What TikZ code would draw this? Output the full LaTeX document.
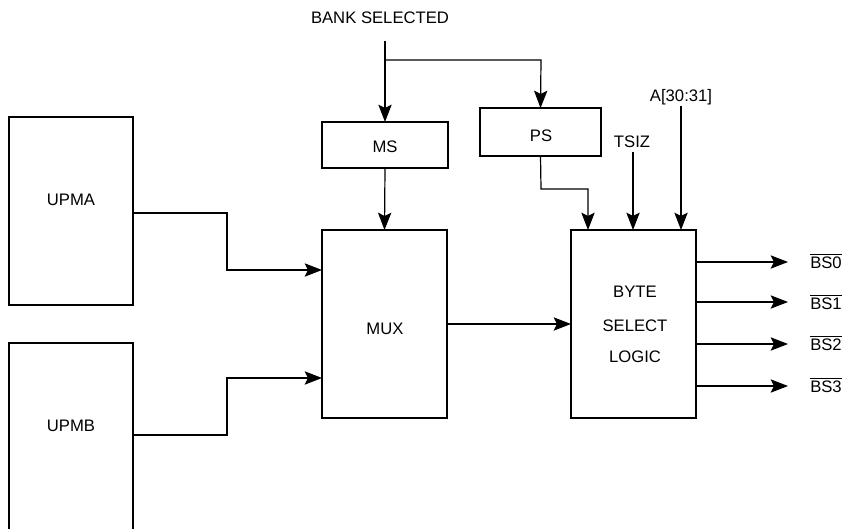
\documentclass[tikz,border=0pt]{standalone}
\usepackage{fontspec}
\setmainfont{Liberation Sans}
\usetikzlibrary{arrows.meta}
\begin{document}
\begin{tikzpicture}[x=0.75pt,y=-0.75pt,
  box/.style={draw,line width=0.9pt,inner sep=0pt,outer sep=0pt,anchor=north west},
  txt/.style={anchor=base,inner sep=0pt,font=\fontsize{12.5pt}{15pt}\selectfont},
  wire/.style={line width=0.9pt},
  arr/.style={wire,-{Stealth[length=13pt,width=10pt,inset=2.5pt]}}]
\useasboundingbox (0,0) rectangle (848,528);
\clip (0,0) rectangle (848,528);
% boxes
\node[box,minimum width=93pt,minimum height=141pt] (upma) at (9,117) {};
\node[box,minimum width=93pt,minimum height=190pt] (upmb) at (9,343) {};
\node[box,minimum width=94.5pt,minimum height=34.5pt] (ms) at (322,122) {};
\node[box,minimum width=90.75pt,minimum height=36pt] (ps) at (480,108) {};
\node[box,minimum width=93.75pt,minimum height=141pt] (mux) at (322,230) {};
\node[box,minimum width=93.75pt,minimum height=141pt] (byte) at (571,230) {};
% texts
\node[txt] (tupma) at (71,205) {UPMA};
\node[txt] (tupmb) at (71,431) {UPMB};
\node[txt] (tms) at (385,152) {MS};
\node[txt] (tps) at (541,141) {PS};
\node[txt] (tmux) at (385,334) {MUX};
\node[txt] (tbyte) at (635,297) {BYTE};
\node[txt] (tsel) at (635,331) {SELECT};
\node[txt] (tlog) at (635,362) {LOGIC};
\node[txt] (bank) at (380,24) {BANK SELECTED};
\node[txt] (tsiz) at (632,147) {TSIZ};
\node[txt] (addr) at (681,101) {A[30:31]};
% coordinates
\coordinate (b0) at (385,41);
\coordinate (br) at (385,60);
\coordinate (bps) at (541,60);
\coordinate (ps1) at (541,189);
\coordinate (ps2) at (588,189);
\coordinate (in1) at (588,230);
\coordinate (ts0) at (633,152);
\coordinate (in2) at (633,230);
\coordinate (a0) at (681,106);
\coordinate (in3) at (681,230);
\coordinate (ua) at (133,213);
\coordinate (ua1) at (227,213);
\coordinate (ua2) at (227,270);
\coordinate (ma) at (322,270);
\coordinate (ub) at (133,435);
\coordinate (ub1) at (227,435);
\coordinate (ub2) at (227,378);
\coordinate (mb) at (322,378);
\coordinate (mo) at (447,324);
\coordinate (bi) at (571,324);
% connectors
\draw[arr] (b0) -- (ms.north);
\draw[arr] (br) -- (bps) -- (ps.north);
\draw[arr] (ps.south) -- (ps1) -- (ps2) -- (in1);
\draw[arr] (ts0) -- (in2);
\draw[arr] (a0) -- (in3);
\draw[arr] (ms.south) -- (mux.north);
\draw[arr] (ua) -- (ua1) -- (ua2) -- (ma);
\draw[arr] (ub) -- (ub1) -- (ub2) -- (mb);
\draw[arr] (mo) -- (bi);
% outputs
\foreach \yy/\yb/\n in {262/268/0,302/309/1,344/350/2,386/392/3}{
  \coordinate (o\n) at (696,\yy);
  \coordinate (e\n) at (788,\yy);
  \draw[arr] (o\n) -- (e\n);
  \node[txt] (bs\n) at (826,\yb) {$\overline{\mbox{BS\n}}$};
}
\end{tikzpicture}
\end{document}
